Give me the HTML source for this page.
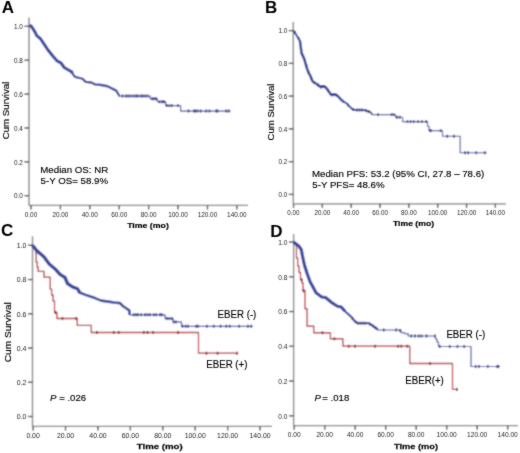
<!DOCTYPE html>
<html><head><meta charset="utf-8"><style>
html,body{margin:0;padding:0;background:#fff;}
body{width:520px;height:453px;overflow:hidden;}
svg{display:block;font-family:"Liberation Sans",sans-serif;}
</style></head><body>
<svg width="520" height="453" viewBox="0 0 520 453">
<defs><filter id="bl" x="0" y="0" width="520" height="453" filterUnits="userSpaceOnUse"><feConvolveMatrix order="3" kernelMatrix="1 2 1 2 6.0 2 1 2 1" edgeMode="duplicate" preserveAlpha="true"/></filter><filter id="tb" x="0" y="0" width="520" height="453" filterUnits="userSpaceOnUse"><feConvolveMatrix order="3" kernelMatrix="1 2 1 2 24.0 2 1 2 1" edgeMode="none" preserveAlpha="false"/></filter></defs>
<g filter="url(#bl)">
<rect width="520" height="453" fill="#fff"/>
<line x1="29" y1="17.5" x2="29" y2="205.4" stroke="#7c7c7c" stroke-width="1.35"/>
<line x1="29" y1="205.4" x2="248" y2="205.4" stroke="#7c7c7c" stroke-width="1.35"/>
<line x1="24.4" y1="26.35" x2="29" y2="26.35" stroke="#333" stroke-width="1.3"/>
<line x1="24.4" y1="60.22" x2="29" y2="60.22" stroke="#333" stroke-width="1.3"/>
<line x1="24.4" y1="94.09" x2="29" y2="94.09" stroke="#333" stroke-width="1.3"/>
<line x1="24.4" y1="127.96" x2="29" y2="127.96" stroke="#333" stroke-width="1.3"/>
<line x1="24.4" y1="161.83" x2="29" y2="161.83" stroke="#333" stroke-width="1.3"/>
<line x1="24.4" y1="195.7" x2="29" y2="195.7" stroke="#333" stroke-width="1.3"/>
<line x1="31" y1="205.4" x2="31" y2="209.6" stroke="#333" stroke-width="1.3"/>
<line x1="60.41" y1="205.4" x2="60.41" y2="209.6" stroke="#333" stroke-width="1.3"/>
<line x1="89.82" y1="205.4" x2="89.82" y2="209.6" stroke="#333" stroke-width="1.3"/>
<line x1="119.23" y1="205.4" x2="119.23" y2="209.6" stroke="#333" stroke-width="1.3"/>
<line x1="148.64" y1="205.4" x2="148.64" y2="209.6" stroke="#333" stroke-width="1.3"/>
<line x1="178.05" y1="205.4" x2="178.05" y2="209.6" stroke="#333" stroke-width="1.3"/>
<line x1="207.46" y1="205.4" x2="207.46" y2="209.6" stroke="#333" stroke-width="1.3"/>
<line x1="236.87" y1="205.4" x2="236.87" y2="209.6" stroke="#333" stroke-width="1.3"/>
<path d="M29.25 26 L31 25.8 L33 28.75 L34.9 31.9 L36.75 35.6 L40.5 38.75 L44.25 44.4 L48 50 L53 56.25 L56.75 60.6 L61.1 63.1 L64.25 67.5 L68 69.75 L71.75 71.9 L72.5 73.75" fill="none" stroke="#38479f" stroke-width="3.1" stroke-linejoin="round" stroke-linecap="butt"/>
<path d="M72.5 73.75 L75 76.9 L82.5 78.75 L85.6 81.9 L91.25 82.5 L95 84.4 L101.25 85 L107.5 86.25 L111.25 88.1 L116.25 90.6 L118.1 93.75 L119.4 96" fill="none" stroke="#38479f" stroke-width="2.3" stroke-linejoin="round" stroke-linecap="butt"/>
<path d="M118.5 96 H150.2 V98.8 H157.4 V101.7 H165.6 V105.6 H180.6 V111 H230.6" fill="none" stroke="#4d56aa" stroke-width="1.25" stroke-linejoin="round" stroke-linecap="butt"/>
<ellipse cx="122.6" cy="96" rx="1.05" ry="1.7" fill="#363f8c"/>
<ellipse cx="126" cy="96" rx="1.05" ry="1.7" fill="#363f8c"/>
<ellipse cx="128.3" cy="96" rx="1.05" ry="1.7" fill="#363f8c"/>
<ellipse cx="130.75" cy="96" rx="1.05" ry="1.7" fill="#363f8c"/>
<ellipse cx="133.6" cy="96" rx="1.05" ry="1.7" fill="#363f8c"/>
<ellipse cx="136" cy="96" rx="1.05" ry="1.7" fill="#363f8c"/>
<ellipse cx="138" cy="96" rx="1.05" ry="1.7" fill="#363f8c"/>
<ellipse cx="140.8" cy="96" rx="1.05" ry="1.7" fill="#363f8c"/>
<ellipse cx="142.8" cy="96" rx="1.05" ry="1.7" fill="#363f8c"/>
<ellipse cx="145.2" cy="96" rx="1.05" ry="1.7" fill="#363f8c"/>
<ellipse cx="147.6" cy="96" rx="1.05" ry="1.7" fill="#363f8c"/>
<ellipse cx="152.4" cy="98.8" rx="1.05" ry="1.7" fill="#363f8c"/>
<ellipse cx="154.3" cy="98.8" rx="1.05" ry="1.7" fill="#363f8c"/>
<ellipse cx="156.2" cy="98.8" rx="1.05" ry="1.7" fill="#363f8c"/>
<ellipse cx="159.5" cy="101.7" rx="1.05" ry="1.7" fill="#363f8c"/>
<ellipse cx="162" cy="101.7" rx="1.05" ry="1.7" fill="#363f8c"/>
<ellipse cx="164" cy="101.7" rx="1.05" ry="1.7" fill="#363f8c"/>
<ellipse cx="167" cy="105.6" rx="1.05" ry="1.7" fill="#363f8c"/>
<ellipse cx="169.5" cy="105.6" rx="1.05" ry="1.7" fill="#363f8c"/>
<ellipse cx="172" cy="105.6" rx="1.05" ry="1.7" fill="#363f8c"/>
<ellipse cx="178" cy="105.6" rx="1.05" ry="1.7" fill="#363f8c"/>
<ellipse cx="188.5" cy="111" rx="1.05" ry="1.7" fill="#363f8c"/>
<ellipse cx="194" cy="111" rx="1.05" ry="1.7" fill="#363f8c"/>
<ellipse cx="195.5" cy="111" rx="1.05" ry="1.7" fill="#363f8c"/>
<ellipse cx="197.5" cy="111" rx="1.05" ry="1.7" fill="#363f8c"/>
<ellipse cx="200.6" cy="111" rx="1.05" ry="1.7" fill="#363f8c"/>
<ellipse cx="206.25" cy="111" rx="1.05" ry="1.7" fill="#363f8c"/>
<ellipse cx="209.4" cy="111" rx="1.05" ry="1.7" fill="#363f8c"/>
<ellipse cx="216.25" cy="111" rx="1.05" ry="1.7" fill="#363f8c"/>
<ellipse cx="217.5" cy="111" rx="1.05" ry="1.7" fill="#363f8c"/>
<ellipse cx="226.25" cy="111" rx="1.05" ry="1.7" fill="#363f8c"/>
<ellipse cx="228.75" cy="111" rx="1.05" ry="1.7" fill="#363f8c"/>
<line x1="293.3" y1="21.9" x2="293.3" y2="203.8" stroke="#7c7c7c" stroke-width="1.35"/>
<line x1="293.3" y1="203.8" x2="506" y2="203.8" stroke="#7c7c7c" stroke-width="1.35"/>
<line x1="288.7" y1="30.6" x2="293.3" y2="30.6" stroke="#333" stroke-width="1.3"/>
<line x1="288.7" y1="63.36" x2="293.3" y2="63.36" stroke="#333" stroke-width="1.3"/>
<line x1="288.7" y1="96.12" x2="293.3" y2="96.12" stroke="#333" stroke-width="1.3"/>
<line x1="288.7" y1="128.88" x2="293.3" y2="128.88" stroke="#333" stroke-width="1.3"/>
<line x1="288.7" y1="161.64" x2="293.3" y2="161.64" stroke="#333" stroke-width="1.3"/>
<line x1="288.7" y1="194.4" x2="293.3" y2="194.4" stroke="#333" stroke-width="1.3"/>
<line x1="293.5" y1="203.8" x2="293.5" y2="208.0" stroke="#333" stroke-width="1.3"/>
<line x1="322.34" y1="203.8" x2="322.34" y2="208.0" stroke="#333" stroke-width="1.3"/>
<line x1="351.18" y1="203.8" x2="351.18" y2="208.0" stroke="#333" stroke-width="1.3"/>
<line x1="380.02" y1="203.8" x2="380.02" y2="208.0" stroke="#333" stroke-width="1.3"/>
<line x1="408.86" y1="203.8" x2="408.86" y2="208.0" stroke="#333" stroke-width="1.3"/>
<line x1="437.7" y1="203.8" x2="437.7" y2="208.0" stroke="#333" stroke-width="1.3"/>
<line x1="466.54" y1="203.8" x2="466.54" y2="208.0" stroke="#333" stroke-width="1.3"/>
<line x1="495.38" y1="203.8" x2="495.38" y2="208.0" stroke="#333" stroke-width="1.3"/>
<path d="M293.5 30.6 L295.6 33.75 L297.5 36.9 L299.75 40" fill="none" stroke="#38479f" stroke-width="2.0" stroke-linejoin="round" stroke-linecap="butt"/>
<path d="M299.75 40 L300.6 45.6 L301.5 53.1 L303.1 56.25 L304.4 59.4 L305.6 63.75 L307.5 70 L309.4 74.4 L310 75 L312.5 81.25 L316.25 83.75 L320.6 86.9 L324.4 86.25 L326.9 88.75 L331.25 95 L335 94.4 L338.1 96.25 L341.9 100.6" fill="none" stroke="#38479f" stroke-width="2.6" stroke-linejoin="round" stroke-linecap="butt"/>
<path d="M341.9 100.6 L346.25 103.1 L351.9 108.75 L355 110 L363.75 110 L367.5 111.25 L370 111.9 L372.5 114.6" fill="none" stroke="#38479f" stroke-width="2.0" stroke-linejoin="round" stroke-linecap="butt"/>
<path d="M372.5 114.6 H395.5 V117.2 H402.6 V121.6 H427.5 V126.25 H429 V130.6 H442.5 V136.2 H460.2 V152.75 H486.9" fill="none" stroke="#4d56aa" stroke-width="1.15" stroke-linejoin="round" stroke-linecap="butt"/>
<ellipse cx="295" cy="32.5" rx="1.05" ry="1.7" fill="#363f8c"/>
<ellipse cx="298.5" cy="38.5" rx="1.05" ry="1.7" fill="#363f8c"/>
<ellipse cx="301" cy="49" rx="1.05" ry="1.7" fill="#363f8c"/>
<ellipse cx="302.5" cy="55" rx="1.05" ry="1.7" fill="#363f8c"/>
<ellipse cx="304" cy="58.5" rx="1.05" ry="1.7" fill="#363f8c"/>
<ellipse cx="305" cy="61" rx="1.05" ry="1.7" fill="#363f8c"/>
<ellipse cx="306.5" cy="66" rx="1.05" ry="1.7" fill="#363f8c"/>
<ellipse cx="308.5" cy="72" rx="1.05" ry="1.7" fill="#363f8c"/>
<ellipse cx="311" cy="78" rx="1.05" ry="1.7" fill="#363f8c"/>
<ellipse cx="314" cy="82.5" rx="1.05" ry="1.7" fill="#363f8c"/>
<ellipse cx="318" cy="85" rx="1.05" ry="1.7" fill="#363f8c"/>
<ellipse cx="321" cy="87" rx="1.05" ry="1.7" fill="#363f8c"/>
<ellipse cx="323" cy="86.5" rx="1.05" ry="1.7" fill="#363f8c"/>
<ellipse cx="328" cy="90.5" rx="1.05" ry="1.7" fill="#363f8c"/>
<ellipse cx="333" cy="94.7" rx="1.05" ry="1.7" fill="#363f8c"/>
<ellipse cx="336.5" cy="95.3" rx="1.05" ry="1.7" fill="#363f8c"/>
<ellipse cx="343" cy="101.3" rx="1.05" ry="1.7" fill="#363f8c"/>
<ellipse cx="348" cy="105" rx="1.05" ry="1.7" fill="#363f8c"/>
<ellipse cx="353" cy="109.4" rx="1.05" ry="1.7" fill="#363f8c"/>
<ellipse cx="357" cy="110" rx="1.05" ry="1.7" fill="#363f8c"/>
<ellipse cx="359.5" cy="110" rx="1.05" ry="1.7" fill="#363f8c"/>
<ellipse cx="362" cy="110" rx="1.05" ry="1.7" fill="#363f8c"/>
<ellipse cx="366" cy="110.5" rx="1.05" ry="1.7" fill="#363f8c"/>
<ellipse cx="368.5" cy="111.5" rx="1.05" ry="1.7" fill="#363f8c"/>
<ellipse cx="378.1" cy="114.6" rx="1.05" ry="1.7" fill="#363f8c"/>
<ellipse cx="391.5" cy="114.6" rx="1.05" ry="1.7" fill="#363f8c"/>
<ellipse cx="393.6" cy="114.6" rx="1.05" ry="1.7" fill="#363f8c"/>
<ellipse cx="397" cy="117.2" rx="1.05" ry="1.7" fill="#363f8c"/>
<ellipse cx="399.8" cy="117.2" rx="1.05" ry="1.7" fill="#363f8c"/>
<ellipse cx="407.5" cy="121.6" rx="1.05" ry="1.7" fill="#363f8c"/>
<ellipse cx="410.6" cy="121.6" rx="1.05" ry="1.7" fill="#363f8c"/>
<ellipse cx="413.75" cy="121.6" rx="1.05" ry="1.7" fill="#363f8c"/>
<ellipse cx="418.1" cy="121.6" rx="1.05" ry="1.7" fill="#363f8c"/>
<ellipse cx="421.9" cy="121.6" rx="1.05" ry="1.7" fill="#363f8c"/>
<ellipse cx="426.25" cy="121.6" rx="1.05" ry="1.7" fill="#363f8c"/>
<ellipse cx="430" cy="130.6" rx="1.05" ry="1.7" fill="#363f8c"/>
<ellipse cx="431" cy="130.6" rx="1.05" ry="1.7" fill="#363f8c"/>
<ellipse cx="440.6" cy="130.6" rx="1.05" ry="1.7" fill="#363f8c"/>
<ellipse cx="447.25" cy="136.2" rx="1.05" ry="1.7" fill="#363f8c"/>
<ellipse cx="454" cy="136.2" rx="1.05" ry="1.7" fill="#363f8c"/>
<ellipse cx="465" cy="152.75" rx="1.05" ry="1.7" fill="#363f8c"/>
<ellipse cx="468.1" cy="152.75" rx="1.05" ry="1.7" fill="#363f8c"/>
<ellipse cx="476.25" cy="152.75" rx="1.05" ry="1.7" fill="#363f8c"/>
<ellipse cx="484.75" cy="152.75" rx="1.05" ry="1.7" fill="#363f8c"/>
<line x1="32.5" y1="236.25" x2="32.5" y2="426.3" stroke="#7c7c7c" stroke-width="1.35"/>
<line x1="32.5" y1="426.3" x2="272" y2="426.3" stroke="#7c7c7c" stroke-width="1.35"/>
<line x1="27.9" y1="245.3" x2="32.5" y2="245.3" stroke="#333" stroke-width="1.3"/>
<line x1="27.9" y1="279.54" x2="32.5" y2="279.54" stroke="#333" stroke-width="1.3"/>
<line x1="27.9" y1="313.78" x2="32.5" y2="313.78" stroke="#333" stroke-width="1.3"/>
<line x1="27.9" y1="348.02" x2="32.5" y2="348.02" stroke="#333" stroke-width="1.3"/>
<line x1="27.9" y1="382.26" x2="32.5" y2="382.26" stroke="#333" stroke-width="1.3"/>
<line x1="27.9" y1="416.5" x2="32.5" y2="416.5" stroke="#333" stroke-width="1.3"/>
<line x1="33.1" y1="426.3" x2="33.1" y2="430.5" stroke="#333" stroke-width="1.3"/>
<line x1="65.52" y1="426.3" x2="65.52" y2="430.5" stroke="#333" stroke-width="1.3"/>
<line x1="97.94" y1="426.3" x2="97.94" y2="430.5" stroke="#333" stroke-width="1.3"/>
<line x1="130.36" y1="426.3" x2="130.36" y2="430.5" stroke="#333" stroke-width="1.3"/>
<line x1="162.78" y1="426.3" x2="162.78" y2="430.5" stroke="#333" stroke-width="1.3"/>
<line x1="195.2" y1="426.3" x2="195.2" y2="430.5" stroke="#333" stroke-width="1.3"/>
<line x1="227.62" y1="426.3" x2="227.62" y2="430.5" stroke="#333" stroke-width="1.3"/>
<line x1="260.04" y1="426.3" x2="260.04" y2="430.5" stroke="#333" stroke-width="1.3"/>
<path d="M32.5 245.3 L35.6 249.5 L36.2 256 V262 H37.2 V267 H38.1 V271.4 H44 V277.2 H50.2 V289.2 H51.6 V295 H53 V300.8 H54.5 V312.5 H56.9 V318.5 H77.25 V325.4 H91.25 V332.5 H198.5 V353.2 H237.6" fill="none" stroke="#b8343e" stroke-width="1.3" stroke-linejoin="round" stroke-linecap="butt"/>
<ellipse cx="55.6" cy="312.5" rx="1.05" ry="1.7" fill="#8c2430"/>
<ellipse cx="62.5" cy="318.5" rx="1.05" ry="1.7" fill="#8c2430"/>
<ellipse cx="76.25" cy="318.5" rx="1.05" ry="1.7" fill="#8c2430"/>
<ellipse cx="96.9" cy="332.5" rx="1.05" ry="1.7" fill="#8c2430"/>
<ellipse cx="113.75" cy="332.5" rx="1.05" ry="1.7" fill="#8c2430"/>
<ellipse cx="118.75" cy="332.5" rx="1.05" ry="1.7" fill="#8c2430"/>
<ellipse cx="143.75" cy="332.5" rx="1.05" ry="1.7" fill="#8c2430"/>
<ellipse cx="147.5" cy="332.5" rx="1.05" ry="1.7" fill="#8c2430"/>
<ellipse cx="153.1" cy="332.5" rx="1.05" ry="1.7" fill="#8c2430"/>
<ellipse cx="178.1" cy="332.5" rx="1.05" ry="1.7" fill="#8c2430"/>
<ellipse cx="206.4" cy="353.2" rx="1.05" ry="1.7" fill="#8c2430"/>
<ellipse cx="217.6" cy="353.2" rx="1.05" ry="1.7" fill="#8c2430"/>
<ellipse cx="237.1" cy="353.2" rx="1.05" ry="1.7" fill="#8c2430"/>
<path d="M32.5 245.3 L36.7 250.6 L43.9 256.8 L49.2 264 L56 269.8 L60 274.4 L65 277.5 L67.5 283.5 L72.5 286.9 L77.5 288.75 L80 293.1" fill="none" stroke="#38479f" stroke-width="3.4" stroke-linejoin="round" stroke-linecap="butt"/>
<path d="M79.5 292.5 L87.5 295.6 L95 298.1 L101.25 300.6 L110 301.9 L113.75 302.5 L120 303.1 L123.1 306.25 L126.9 308.75 L129.4 310.6 L129.4 314.75" fill="none" stroke="#38479f" stroke-width="2.6" stroke-linejoin="round" stroke-linecap="butt"/>
<path d="M129.4 314.75 H165 V318.5 H173.1 V321.9 H181.5 V326.25 H252.6" fill="none" stroke="#4d56aa" stroke-width="1.25" stroke-linejoin="round" stroke-linecap="butt"/>
<ellipse cx="133.75" cy="314.75" rx="1.05" ry="1.7" fill="#363f8c"/>
<ellipse cx="136" cy="314.75" rx="1.05" ry="1.7" fill="#363f8c"/>
<ellipse cx="138.1" cy="314.75" rx="1.05" ry="1.7" fill="#363f8c"/>
<ellipse cx="141.25" cy="314.75" rx="1.05" ry="1.7" fill="#363f8c"/>
<ellipse cx="145" cy="314.75" rx="1.05" ry="1.7" fill="#363f8c"/>
<ellipse cx="147.5" cy="314.75" rx="1.05" ry="1.7" fill="#363f8c"/>
<ellipse cx="150" cy="314.75" rx="1.05" ry="1.7" fill="#363f8c"/>
<ellipse cx="153.75" cy="314.75" rx="1.05" ry="1.7" fill="#363f8c"/>
<ellipse cx="156.25" cy="314.75" rx="1.05" ry="1.7" fill="#363f8c"/>
<ellipse cx="160" cy="314.75" rx="1.05" ry="1.7" fill="#363f8c"/>
<ellipse cx="161.9" cy="314.75" rx="1.05" ry="1.7" fill="#363f8c"/>
<ellipse cx="166.9" cy="318.5" rx="1.05" ry="1.7" fill="#363f8c"/>
<ellipse cx="169.4" cy="318.5" rx="1.05" ry="1.7" fill="#363f8c"/>
<ellipse cx="171.9" cy="318.5" rx="1.05" ry="1.7" fill="#363f8c"/>
<ellipse cx="173.75" cy="321.9" rx="1.05" ry="1.7" fill="#363f8c"/>
<ellipse cx="176" cy="321.9" rx="1.05" ry="1.7" fill="#363f8c"/>
<ellipse cx="182.5" cy="326.25" rx="1.05" ry="1.7" fill="#363f8c"/>
<ellipse cx="185.6" cy="326.25" rx="1.05" ry="1.7" fill="#363f8c"/>
<ellipse cx="188.1" cy="326.25" rx="1.05" ry="1.7" fill="#363f8c"/>
<ellipse cx="196.25" cy="326.25" rx="1.05" ry="1.7" fill="#363f8c"/>
<ellipse cx="198.1" cy="326.25" rx="1.05" ry="1.7" fill="#363f8c"/>
<ellipse cx="206.9" cy="326.25" rx="1.05" ry="1.7" fill="#363f8c"/>
<ellipse cx="213.75" cy="326.25" rx="1.05" ry="1.7" fill="#363f8c"/>
<ellipse cx="220.6" cy="326.25" rx="1.05" ry="1.7" fill="#363f8c"/>
<ellipse cx="226.3" cy="326.25" rx="1.05" ry="1.7" fill="#363f8c"/>
<ellipse cx="229.7" cy="326.25" rx="1.05" ry="1.7" fill="#363f8c"/>
<ellipse cx="239.1" cy="326.25" rx="1.05" ry="1.7" fill="#363f8c"/>
<ellipse cx="247.9" cy="326.25" rx="1.05" ry="1.7" fill="#363f8c"/>
<ellipse cx="251.2" cy="326.25" rx="1.05" ry="1.7" fill="#363f8c"/>
<line x1="293.6" y1="234" x2="293.6" y2="425.6" stroke="#7c7c7c" stroke-width="1.35"/>
<line x1="293.6" y1="425.6" x2="518" y2="425.6" stroke="#7c7c7c" stroke-width="1.35"/>
<line x1="289.0" y1="242" x2="293.6" y2="242" stroke="#333" stroke-width="1.3"/>
<line x1="289.0" y1="276.76" x2="293.6" y2="276.76" stroke="#333" stroke-width="1.3"/>
<line x1="289.0" y1="311.52" x2="293.6" y2="311.52" stroke="#333" stroke-width="1.3"/>
<line x1="289.0" y1="346.28" x2="293.6" y2="346.28" stroke="#333" stroke-width="1.3"/>
<line x1="289.0" y1="381.04" x2="293.6" y2="381.04" stroke="#333" stroke-width="1.3"/>
<line x1="289.0" y1="415.8" x2="293.6" y2="415.8" stroke="#333" stroke-width="1.3"/>
<line x1="294.2" y1="425.6" x2="294.2" y2="429.8" stroke="#333" stroke-width="1.3"/>
<line x1="324.7" y1="425.6" x2="324.7" y2="429.8" stroke="#333" stroke-width="1.3"/>
<line x1="355.2" y1="425.6" x2="355.2" y2="429.8" stroke="#333" stroke-width="1.3"/>
<line x1="385.7" y1="425.6" x2="385.7" y2="429.8" stroke="#333" stroke-width="1.3"/>
<line x1="416.2" y1="425.6" x2="416.2" y2="429.8" stroke="#333" stroke-width="1.3"/>
<line x1="446.7" y1="425.6" x2="446.7" y2="429.8" stroke="#333" stroke-width="1.3"/>
<line x1="477.2" y1="425.6" x2="477.2" y2="429.8" stroke="#333" stroke-width="1.3"/>
<line x1="507.7" y1="425.6" x2="507.7" y2="429.8" stroke="#333" stroke-width="1.3"/>
<path d="M293.6 242 L296.5 246 V258 H297.7 V265.8 H299 V272.5 H300.5 V279.7 H302 V283 H303 V290.5 H305 V308.75 H307.1 V326.25 H313.75 V332.75 H330.4 V338.75 H342.9 V346.2 H409.75 V363.5 H452.5 V389.4 H457" fill="none" stroke="#b8343e" stroke-width="1.3" stroke-linejoin="round" stroke-linecap="butt"/>
<ellipse cx="301.5" cy="279.7" rx="1.05" ry="1.7" fill="#8c2430"/>
<ellipse cx="303.5" cy="290.8" rx="1.05" ry="1.7" fill="#8c2430"/>
<ellipse cx="322.5" cy="332.75" rx="1.05" ry="1.7" fill="#8c2430"/>
<ellipse cx="334.4" cy="338.75" rx="1.05" ry="1.7" fill="#8c2430"/>
<ellipse cx="348.75" cy="346.2" rx="1.05" ry="1.7" fill="#8c2430"/>
<ellipse cx="355" cy="346.2" rx="1.05" ry="1.7" fill="#8c2430"/>
<ellipse cx="375" cy="346.2" rx="1.05" ry="1.7" fill="#8c2430"/>
<ellipse cx="398.1" cy="346.2" rx="1.05" ry="1.7" fill="#8c2430"/>
<ellipse cx="401.25" cy="346.2" rx="1.05" ry="1.7" fill="#8c2430"/>
<ellipse cx="407.25" cy="346.2" rx="1.05" ry="1.7" fill="#8c2430"/>
<ellipse cx="430" cy="363.5" rx="1.05" ry="1.7" fill="#8c2430"/>
<ellipse cx="457" cy="389.4" rx="1.05" ry="1.7" fill="#8c2430"/>
<path d="M293.6 242 L298.75 246 L301.25 249.5 L302.5 256 L304.4 265 L307.3 274 L310.2 282 L313 287 L316 292.7 L321.7 297 L325.6 297.5 L331.3 302.3 L337.5 306.25 L341.25 307 L345 311.25" fill="none" stroke="#38479f" stroke-width="3.2" stroke-linejoin="round" stroke-linecap="butt"/>
<path d="M344.5 310.8 L351.25 316.9 L353.75 320 L357.5 323.1 L368.75 323.1 L372.5 325.6 L376.9 328.75 L378.1 330" fill="none" stroke="#38479f" stroke-width="2.2" stroke-linejoin="round" stroke-linecap="butt"/>
<path d="M378.1 330 H401 V332.6 H404.5 V333.6 H408.2 V336 H435.5 V339 H437 V342 H438.5 V346.5 H471 V366.5 H499.2" fill="none" stroke="#4d56aa" stroke-width="1.2" stroke-linejoin="round" stroke-linecap="butt"/>
<ellipse cx="352.5" cy="318.5" rx="1.05" ry="1.7" fill="#363f8c"/>
<ellipse cx="355" cy="321.5" rx="1.05" ry="1.7" fill="#363f8c"/>
<ellipse cx="357.5" cy="323.1" rx="1.05" ry="1.7" fill="#363f8c"/>
<ellipse cx="360" cy="323.1" rx="1.05" ry="1.7" fill="#363f8c"/>
<ellipse cx="362.5" cy="323.1" rx="1.05" ry="1.7" fill="#363f8c"/>
<ellipse cx="365" cy="323.1" rx="1.05" ry="1.7" fill="#363f8c"/>
<ellipse cx="370" cy="324.2" rx="1.05" ry="1.7" fill="#363f8c"/>
<ellipse cx="372.8" cy="325.8" rx="1.05" ry="1.7" fill="#363f8c"/>
<ellipse cx="375.5" cy="327.8" rx="1.05" ry="1.7" fill="#363f8c"/>
<ellipse cx="383.75" cy="330" rx="1.05" ry="1.7" fill="#363f8c"/>
<ellipse cx="396.25" cy="330" rx="1.05" ry="1.7" fill="#363f8c"/>
<ellipse cx="400" cy="330.5" rx="1.05" ry="1.7" fill="#363f8c"/>
<ellipse cx="411.25" cy="336" rx="1.05" ry="1.7" fill="#363f8c"/>
<ellipse cx="415" cy="336" rx="1.05" ry="1.7" fill="#363f8c"/>
<ellipse cx="418.75" cy="336" rx="1.05" ry="1.7" fill="#363f8c"/>
<ellipse cx="421.5" cy="336" rx="1.05" ry="1.7" fill="#363f8c"/>
<ellipse cx="426.5" cy="336" rx="1.05" ry="1.7" fill="#363f8c"/>
<ellipse cx="435" cy="336" rx="1.05" ry="1.7" fill="#363f8c"/>
<ellipse cx="439.75" cy="346.5" rx="1.05" ry="1.7" fill="#363f8c"/>
<ellipse cx="449.7" cy="346.5" rx="1.05" ry="1.7" fill="#363f8c"/>
<ellipse cx="457.5" cy="346.5" rx="1.05" ry="1.7" fill="#363f8c"/>
<ellipse cx="464.2" cy="346.5" rx="1.05" ry="1.7" fill="#363f8c"/>
<ellipse cx="475.7" cy="366.5" rx="1.05" ry="1.7" fill="#363f8c"/>
<ellipse cx="479" cy="366.5" rx="1.05" ry="1.7" fill="#363f8c"/>
<ellipse cx="487.8" cy="366.5" rx="1.05" ry="1.7" fill="#363f8c"/>
<ellipse cx="497.2" cy="366.5" rx="1.05" ry="1.7" fill="#363f8c"/>
<ellipse cx="498.5" cy="366.5" rx="1.05" ry="1.7" fill="#363f8c"/>
</g>
<g filter="url(#tb)">
<text x="1.8" y="12.7" font-size="17" font-weight="bold" text-anchor="start" fill="#000" >A</text>
<text x="22.9" y="29.07" text-anchor="end" font-size="6.4" fill="#262626">1.0</text>
<text x="22.9" y="62.94" text-anchor="end" font-size="6.4" fill="#262626">0.8</text>
<text x="22.9" y="96.81" text-anchor="end" font-size="6.4" fill="#262626">0.6</text>
<text x="22.9" y="130.68" text-anchor="end" font-size="6.4" fill="#262626">0.4</text>
<text x="22.9" y="164.55" text-anchor="end" font-size="6.4" fill="#262626">0.2</text>
<text x="22.9" y="198.42" text-anchor="end" font-size="6.4" fill="#262626">0.0</text>
<text x="31" y="216.5" text-anchor="middle" font-size="6.4" fill="#262626">0.00</text>
<text x="60.41" y="216.5" text-anchor="middle" font-size="6.4" fill="#262626">20.00</text>
<text x="89.82" y="216.5" text-anchor="middle" font-size="6.4" fill="#262626">40.00</text>
<text x="119.23" y="216.5" text-anchor="middle" font-size="6.4" fill="#262626">60.00</text>
<text x="148.64" y="216.5" text-anchor="middle" font-size="6.4" fill="#262626">80.00</text>
<text x="178.05" y="216.5" text-anchor="middle" font-size="6.4" fill="#262626">100.00</text>
<text x="207.46" y="216.5" text-anchor="middle" font-size="6.4" fill="#262626">120.00</text>
<text x="236.87" y="216.5" text-anchor="middle" font-size="6.4" fill="#262626">140.00</text>
<text x="0" y="0" transform="translate(148,228.3) scale(1.2,1)" font-size="7.3" font-weight="bold" text-anchor="middle" fill="#000" stroke="#1a1a1a" stroke-width="0.25">Time (mo)</text>
<text x="0" y="0" font-size="8.5" text-anchor="middle" fill="#000" stroke="#000" stroke-width="0.15" transform="translate(8.9,110.5) rotate(-90) scale(1.14,1)">Cum Survival</text>
<text x="40.3" y="172.8" font-size="9.7" font-weight="normal" text-anchor="start" fill="#000"  stroke="#000" stroke-width="0.15">Median OS: NR</text>
<text x="40.6" y="184.3" font-size="9.7" font-weight="normal" text-anchor="start" fill="#000"  stroke="#000" stroke-width="0.15">5-Y OS= 58.9%</text>
<text x="265" y="13" font-size="17" font-weight="bold" text-anchor="start" fill="#000" >B</text>
<text x="287.2" y="33.29" text-anchor="end" font-size="6.3" fill="#262626">1.0</text>
<text x="287.2" y="66.05" text-anchor="end" font-size="6.3" fill="#262626">0.8</text>
<text x="287.2" y="98.81" text-anchor="end" font-size="6.3" fill="#262626">0.6</text>
<text x="287.2" y="131.57" text-anchor="end" font-size="6.3" fill="#262626">0.4</text>
<text x="287.2" y="164.33" text-anchor="end" font-size="6.3" fill="#262626">0.2</text>
<text x="287.2" y="197.09" text-anchor="end" font-size="6.3" fill="#262626">0.0</text>
<text x="293.5" y="214.5" text-anchor="middle" font-size="6.3" fill="#262626">0.00</text>
<text x="322.34" y="214.5" text-anchor="middle" font-size="6.3" fill="#262626">20.00</text>
<text x="351.18" y="214.5" text-anchor="middle" font-size="6.3" fill="#262626">40.00</text>
<text x="380.02" y="214.5" text-anchor="middle" font-size="6.3" fill="#262626">60.00</text>
<text x="408.86" y="214.5" text-anchor="middle" font-size="6.3" fill="#262626">80.00</text>
<text x="437.7" y="214.5" text-anchor="middle" font-size="6.3" fill="#262626">100.00</text>
<text x="466.54" y="214.5" text-anchor="middle" font-size="6.3" fill="#262626">120.00</text>
<text x="495.38" y="214.5" text-anchor="middle" font-size="6.3" fill="#262626">140.00</text>
<text x="0" y="0" transform="translate(413.5,225.8) scale(1.22,1)" font-size="7.1" font-weight="bold" text-anchor="middle" fill="#000" stroke="#1a1a1a" stroke-width="0.25">Time (mo)</text>
<text x="0" y="0" font-size="8.5" text-anchor="middle" fill="#000" stroke="#000" stroke-width="0.15" transform="translate(273.6,112) rotate(-90) scale(1.13,1)">Cum Survival</text>
<text x="312" y="176.7" font-size="9.7" font-weight="normal" text-anchor="start" fill="#000"  stroke="#000" stroke-width="0.15">Median PFS: 53.2 (95% CI, 27.8 – 78.6)</text>
<text x="312.3" y="188.1" font-size="9.7" font-weight="normal" text-anchor="start" fill="#000"  stroke="#000" stroke-width="0.15">5-Y PFS= 48.6%</text>
<text x="1" y="236.3" font-size="17" font-weight="bold" text-anchor="start" fill="#000" >C</text>
<text x="26.4" y="248.2" text-anchor="end" font-size="6.9" fill="#262626">1.0</text>
<text x="26.4" y="282.44" text-anchor="end" font-size="6.9" fill="#262626">0.8</text>
<text x="26.4" y="316.68" text-anchor="end" font-size="6.9" fill="#262626">0.6</text>
<text x="26.4" y="350.92" text-anchor="end" font-size="6.9" fill="#262626">0.4</text>
<text x="26.4" y="385.16" text-anchor="end" font-size="6.9" fill="#262626">0.2</text>
<text x="26.4" y="419.4" text-anchor="end" font-size="6.9" fill="#262626">0.0</text>
<text x="33.1" y="437.9" text-anchor="middle" font-size="6.9" fill="#262626">0.00</text>
<text x="65.52" y="437.9" text-anchor="middle" font-size="6.9" fill="#262626">20.00</text>
<text x="97.94" y="437.9" text-anchor="middle" font-size="6.9" fill="#262626">40.00</text>
<text x="130.36" y="437.9" text-anchor="middle" font-size="6.9" fill="#262626">60.00</text>
<text x="162.78" y="437.9" text-anchor="middle" font-size="6.9" fill="#262626">80.00</text>
<text x="195.2" y="437.9" text-anchor="middle" font-size="6.9" fill="#262626">100.00</text>
<text x="227.62" y="437.9" text-anchor="middle" font-size="6.9" fill="#262626">120.00</text>
<text x="260.04" y="437.9" text-anchor="middle" font-size="6.9" fill="#262626">140.00</text>
<text x="0" y="0" transform="translate(159.7,449.3) scale(1.27,1)" font-size="7.6" font-weight="bold" text-anchor="middle" fill="#000" stroke="#1a1a1a" stroke-width="0.25">Time (mo)</text>
<text x="0" y="0" font-size="8.8" text-anchor="middle" fill="#000" stroke="#000" stroke-width="0.15" transform="translate(10.9,332.2) rotate(-90) scale(1.15,1)">Cum Survival</text>
<text x="0" y="0" transform="translate(217.6,317.5) scale(0.96,1)" font-size="10.1" font-weight="normal" text-anchor="start" fill="#000"  stroke="#000" stroke-width="0.15">EBER (-)</text>
<text x="0" y="0" transform="translate(206.3,367.6) scale(0.96,1)" font-size="10.1" font-weight="normal" text-anchor="start" fill="#000"  stroke="#000" stroke-width="0.15">EBER (+)</text>
<text x="50" y="400.8" font-size="9.6" font-weight="normal" text-anchor="start" fill="#000" font-style="italic" stroke="#000" stroke-width="0.15">P</text>
<text x="59.2" y="400.8" font-size="9.6" font-weight="normal" text-anchor="start" fill="#000"  stroke="#000" stroke-width="0.15">= .026</text>
<text x="270.2" y="236.5" font-size="17" font-weight="bold" text-anchor="start" fill="#000" >D</text>
<text x="287.5" y="244.79" text-anchor="end" font-size="6.6" fill="#262626">1.0</text>
<text x="287.5" y="279.55" text-anchor="end" font-size="6.6" fill="#262626">0.8</text>
<text x="287.5" y="314.31" text-anchor="end" font-size="6.6" fill="#262626">0.6</text>
<text x="287.5" y="349.07" text-anchor="end" font-size="6.6" fill="#262626">0.4</text>
<text x="287.5" y="383.83" text-anchor="end" font-size="6.6" fill="#262626">0.2</text>
<text x="287.5" y="418.59" text-anchor="end" font-size="6.6" fill="#262626">0.0</text>
<text x="294.2" y="436.9" text-anchor="middle" font-size="6.6" fill="#262626">0.00</text>
<text x="324.7" y="436.9" text-anchor="middle" font-size="6.6" fill="#262626">20.00</text>
<text x="355.2" y="436.9" text-anchor="middle" font-size="6.6" fill="#262626">40.00</text>
<text x="385.7" y="436.9" text-anchor="middle" font-size="6.6" fill="#262626">60.00</text>
<text x="416.2" y="436.9" text-anchor="middle" font-size="6.6" fill="#262626">80.00</text>
<text x="446.7" y="436.9" text-anchor="middle" font-size="6.6" fill="#262626">100.00</text>
<text x="477.2" y="436.9" text-anchor="middle" font-size="6.6" fill="#262626">120.00</text>
<text x="507.7" y="436.9" text-anchor="middle" font-size="6.6" fill="#262626">140.00</text>
<text x="0" y="0" transform="translate(416,449) scale(1.25,1)" font-size="7.4" font-weight="bold" text-anchor="middle" fill="#000" stroke="#1a1a1a" stroke-width="0.25">Time (mo)</text>
<text x="0" y="0" transform="translate(446.4,337.8) scale(0.96,1)" font-size="10.1" font-weight="normal" text-anchor="start" fill="#000"  stroke="#000" stroke-width="0.15">EBER (-)</text>
<text x="0" y="0" transform="translate(405.3,383.6) scale(0.96,1)" font-size="10.1" font-weight="normal" text-anchor="start" fill="#000"  stroke="#000" stroke-width="0.15">EBER(+)</text>
<text x="314.4" y="400.5" font-size="9.6" font-weight="normal" text-anchor="start" fill="#000" font-style="italic" stroke="#000" stroke-width="0.15">P</text>
<text x="322.3" y="400.5" font-size="9.6" font-weight="normal" text-anchor="start" fill="#000"  stroke="#000" stroke-width="0.15">= .018</text>
</g>
</svg>
</body></html>
